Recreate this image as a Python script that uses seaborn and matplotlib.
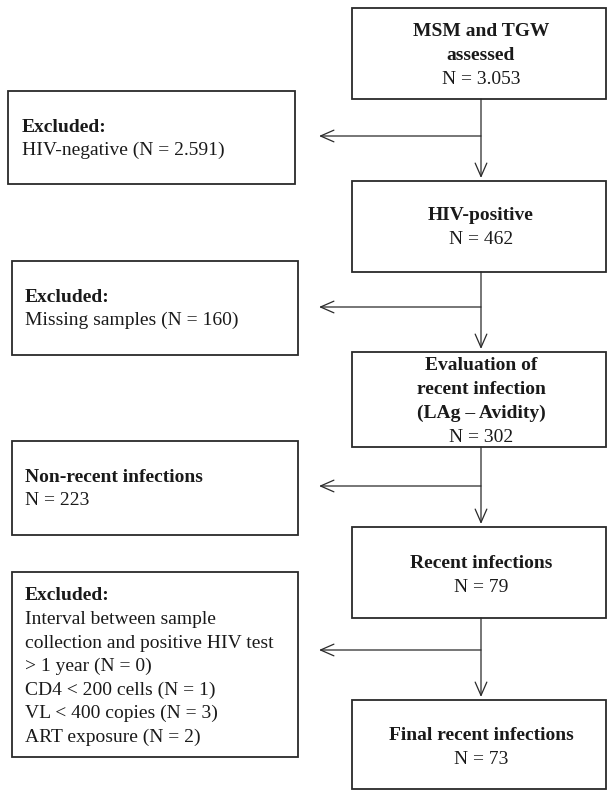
import matplotlib
matplotlib.use("Agg")
import matplotlib.pyplot as plt
from matplotlib.patches import Rectangle
import seaborn as sns

sns.set_theme(style="white")
plt.rcParams['font.family'] = ['Liberation Serif', 'DejaVu Serif']

# ---- data ----
main_titles = ["MSM and TGW\nassessed", "HIV-positive",
               "Evaluation of\nrecent infection\n(LAg \u2013 Avidity)",
               "Recent infections", "Final recent infections"]
main_counts = ["3.053", "462", "302", "79", "73"]
side_titles = ["Excluded:", "Excluded:", "Non-recent infections", "Excluded:"]
side_details = [["HIV-negative (N = 2.591)"],
                ["Missing samples (N = 160)"],
                ["N = 223"],
                ["Interval between sample", "collection and positive HIV test",
                 "> 1 year (N = 0)", "CD4 < 200 cells (N = 1)",
                 "VL < 400 copies (N = 3)", "ART exposure (N = 2)"]]

# ---- layout (pixel coordinates, y downward) ----
W, H = 608, 791
main_boxes = [(352, 8, 606, 99), (352, 181, 606, 272), (352, 352, 606, 447),
              (352, 527, 606, 618), (352, 700, 606, 789)]
main_text_y = [[32, 55, 79], [216, 240], [366, 389, 413, 437], [563, 587], [735, 759]]
side_boxes = [(8, 91, 295, 184), (12, 261, 298, 355), (12, 441, 298, 535), (12, 572, 298, 757)]
side_text_x = [22, 25, 25, 25]
side_text_y0 = [127, 297, 477, 596]
branch_y = [136, 307, 486, 650]
cx = 481
tip_x = 319
fs = 14
lc = "#2a2a2a"

fig = plt.figure(figsize=(W / 100, H / 100), dpi=100)
ax = fig.add_axes([0, 0, 1, 1])
ax.set_xlim(0, W)
ax.set_ylim(H, 0)
ax.axis("off")

for (x0, y0, x1, y1) in main_boxes + side_boxes:
    ax.add_patch(Rectangle((x0, y0), x1 - x0, y1 - y0, fill=False,
                           edgecolor=lc, linewidth=1.3))

for i, (title, n) in enumerate(zip(main_titles, main_counts)):
    lines = title.split("\n")
    ys = main_text_y[i]
    for j, ln in enumerate(lines):
        ax.text(cx, ys[j], ln, ha="center", va="center", fontsize=fs,
                fontweight="bold", color="#1a1a1a")
    ax.text(cx, ys[len(lines)], f"N = {n}", ha="center", va="center",
            fontsize=fs, color="#1a1a1a")

for i, (title, det) in enumerate(zip(side_titles, side_details)):
    y = side_text_y0[i]
    x = side_text_x[i]
    step = 23.5
    ax.text(x, y, title, ha="left", va="center", fontsize=fs,
            fontweight="bold", color="#1a1a1a")
    for k, ln in enumerate(det):
        ax.text(x, y + step * (k + 1), ln, ha="left",
                va="center", fontsize=fs, color="#1a1a1a")

arrow_kw = dict(arrowstyle="->,head_length=0.8,head_width=0.35",
                color=lc, linewidth=0.9, shrinkA=0, shrinkB=0)
for i in range(4):
    top = main_boxes[i][3]
    bot = main_boxes[i + 1][1]
    ax.annotate("", xy=(cx, bot - 3), xytext=(cx, top), arrowprops=arrow_kw)
    ax.annotate("", xy=(tip_x, branch_y[i]), xytext=(cx, branch_y[i]),
                arrowprops=arrow_kw)

fig.savefig("out.png", dpi=100)
